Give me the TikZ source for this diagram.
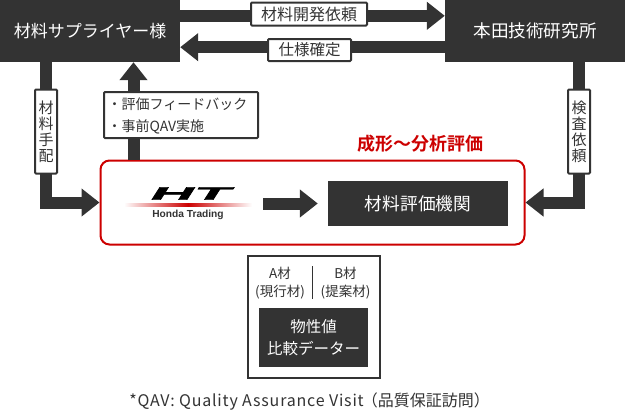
\documentclass[tikz,border=0pt]{standalone}
\usepackage{fontspec}
\setmainfont{Noto Sans CJK JP}[BoldFont={Noto Sans CJK JP Bold}]
\setsansfont{Liberation Sans}
\usetikzlibrary{arrows.meta}
\definecolor{ink}{HTML}{333333}
\definecolor{hred}{HTML}{CC0000}
\newcommand{\fs}[2]{\fontsize{#1}{#2}\selectfont}
\tikzset{
 x=1pt,y=-1pt,
 darkbox/.style={fill=ink,text=white,inner sep=0pt,align=center},
 tag/.style={draw=ink,fill=white,line width=2pt,text=ink,inner sep=0pt,rounded corners=1pt,align=center},
 flow/.style={draw=ink,line width=12pt,-{Triangle[length=18pt,width=27pt]}},
}
\begin{document}
\begin{tikzpicture}
\useasboundingbox (0,0) rectangle (625,413);
% main boxes
\node[darkbox,minimum width=180pt,minimum height=62pt,font=\fs{17}{17}] (sup) at (90,31) {材料サプライヤー様};
\node[darkbox,minimum width=180pt,minimum height=62pt,font=\fs{17.6}{17}] (lab) at (535,31) {本田技術研究所};
\node[draw=hred,line width=2pt,rounded corners=9pt,minimum width=424pt,minimum height=84pt,inner sep=0pt] (red) at (312.5,202.5) {};
\node[darkbox,minimum width=180pt,minimum height=45pt,font=\fs{17.7}{17}] (eval) at (418,203.5) {材料評価機関};
\node[inner sep=0pt,minimum width=150pt,minimum height=40pt] (logo) at (188,203.5) {};
% connectors
\draw[flow] ([yshift=-16pt]sup.north east) -- ([yshift=-16pt]lab.north west);
\draw[flow] ([yshift=15pt]lab.south west) -- ([yshift=15pt]sup.south east);
\draw[flow] ([xshift=-44pt]sup.south) |- (red.west);
\draw[flow] ([xshift=44pt]lab.south) |- (red.east);
\draw[flow] ([xshift=-179pt]red.north) -- ([xshift=43.5pt]sup.south);
\draw[flow,shorten >=10pt] (logo.east) -- (eval.west);
% labels on connectors
\node[tag,minimum width=116pt,minimum height=23pt,font=\fs{16}{16}] (t1) at (309,14) {材料開発依頼};
\node[tag,minimum width=83pt,minimum height=22pt,font=\fs{15.5}{16}] (t2) at (309.5,50) {仕様確定};
\node[tag,minimum width=22pt,minimum height=84pt,font=\fs{15}{16}] (t3) at (46,131.5) {材\\料\\手\\配};
\node[tag,minimum width=22pt,minimum height=84pt,font=\fs{15}{16}] (t4) at (579,131.5) {検\\査\\依\\頼};
\node[tag,minimum width=154pt,minimum height=46pt] (t5) at (181,115) {};
\node[inner sep=0pt,text=ink,align=left,font=\fs{14}{21.5}] (t5text) at (177.5,116) {・評価フィードバック\\・事前QAV実施};
% red title
\node[text=hred,inner sep=0pt,font=\fs{18}{18}\bfseries] (rt) at (420.5,144) {成形〜分析評価};
% logo
\node[inner sep=0pt,text=black,xscale=3.3,font=\sffamily\bfseries\itshape\fs{18}{18}\addfontfeature{FakeBold=1.5}] (ht) at (190.5,193.5) {HT};
\shade[left color=white,right color=white,middle color=hred] (124,203) rectangle (252,206);
\node[inner sep=0pt,text=ink,font=\sffamily\bfseries\fs{10.2}{10}] (ht2) at (188,214.5) {Honda Trading};
% bottom panel
\node[draw=ink,line width=2pt,fill=white,minimum width=132pt,minimum height=122pt,inner sep=0pt] (panel) at (313.5,317) {};
\node[darkbox,minimum width=109pt,minimum height=59pt,font=\fs{15.5}{21.5}] (data) at (313.5,337.5) {物性値\\比較データー};
\node[text=ink,inner sep=0pt,align=center,font=\fs{13.5}{18}] (a) at (280,283.5) {A材\\(現行材)};
\node[text=ink,inner sep=0pt,align=center,font=\fs{13.5}{18}] (b) at (345.5,283.5) {B材\\(提案材)};
\coordinate (d1) at (312.5,266);
\coordinate (d2) at (312.5,299);
\draw[ink,line width=0.8pt] (d1) -- (d2);
\node[text=ink,inner sep=0pt,font=\fs{16}{16}] (cap) at (309.5,402) {{\addfontfeature{LetterSpace=5}*QAV: Quality Assurance Visit}\kern-2pt（品質保証訪問）};
\end{tikzpicture}
\end{document}
